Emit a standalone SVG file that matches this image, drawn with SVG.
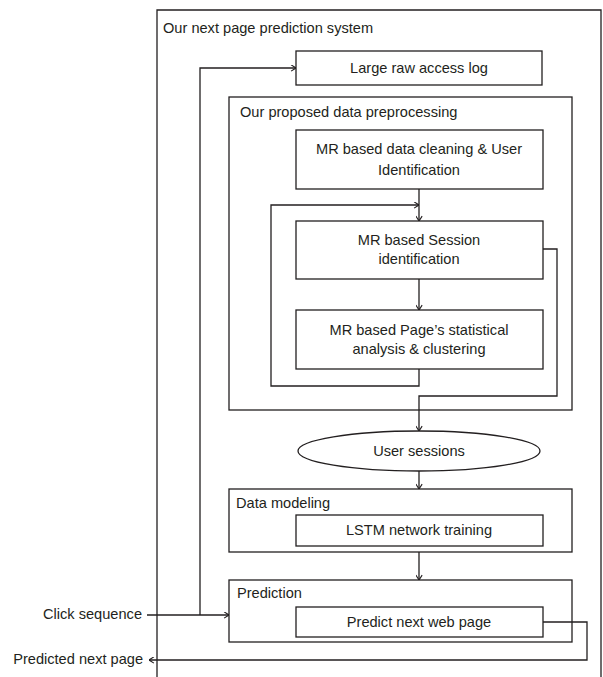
<svg xmlns="http://www.w3.org/2000/svg" width="603" height="677" viewBox="0 0 603 677">
<style>
.box{fill:#fff;stroke:#231f20;stroke-width:1.3}
.frame{fill:none;stroke:#231f20;stroke-width:1.3}
.c{fill:none;stroke:#231f20;stroke-width:1.3}
text{font-family:"Liberation Sans",Arial,sans-serif;font-size:14.6px;fill:#231f20}
.m{text-anchor:middle}
.e{text-anchor:end}
</style>
<defs>
<marker id="a" viewBox="0 0 10 10" refX="10" refY="5" markerWidth="7" markerHeight="7" markerUnits="userSpaceOnUse" orient="auto">
<path d="M3,0.5 L10,5 L3,9.5" fill="none" stroke="#231f20" stroke-width="1.6"/>
</marker>
</defs>
<g id="system">
<path class="frame" d="M157,677 V10 H601 V677"/>
<text x="163" y="33">Our next page prediction system</text>
</g>
<g id="rawlog">
<rect class="box" x="296" y="51" width="246" height="34"/>
<text class="m" x="419" y="73">Large raw access log</text>
</g>
<g id="preprocessing">
<rect class="box" x="229" y="97" width="343" height="313"/>
<text x="240" y="117">Our proposed data preprocessing</text>
</g>
<g id="cleaning">
<rect class="box" x="296" y="130" width="247" height="59"/>
<text class="m" x="419" y="154">MR based data cleaning &amp; User</text>
<text class="m" x="419" y="175">Identification</text>
</g>
<g id="session">
<rect class="box" x="296" y="221" width="247" height="58"/>
<text class="m" x="419" y="245">MR based Session</text>
<text class="m" x="419" y="264">identification</text>
</g>
<g id="pagestats">
<rect class="box" x="296" y="310" width="247" height="59"/>
<text class="m" x="419" y="335">MR based Page’s statistical</text>
<text class="m" x="419" y="354">analysis &amp; clustering</text>
</g>
<g id="usersessions">
<ellipse class="box" cx="419" cy="451" rx="121" ry="20"/>
<text class="m" x="419" y="456">User sessions</text>
</g>
<g id="datamodeling">
<rect class="box" x="229" y="489" width="343" height="63"/>
<text x="236" y="508">Data modeling</text>
</g>
<g id="lstm">
<rect class="box" x="296" y="515" width="247" height="31"/>
<text class="m" x="419" y="535">LSTM network training</text>
</g>
<g id="prediction">
<rect class="box" x="229" y="580" width="343" height="62"/>
<text x="237" y="598">Prediction</text>
</g>
<g id="predictnext">
<rect class="box" x="296" y="607" width="247" height="30"/>
<text class="m" x="419" y="627">Predict next web page</text>
</g>
<g id="clickseq">
<text class="e" x="142" y="619">Click sequence</text>
</g>
<g id="predictedpage">
<text class="e" x="143" y="664">Predicted next page</text>
</g>
<g id="connectors">
<path class="c" d="M200,615 V68 H296" marker-end="url(#a)"/>
<path class="c" d="M419,189 V221" marker-end="url(#a)"/>
<path class="c" d="M419,369 V386 H271 V205 H419" marker-end="url(#a)"/>
<path class="c" d="M419,279 V310" marker-end="url(#a)"/>
<path class="c" d="M543,249 H557 V396 H419 V431" marker-end="url(#a)"/>
<path class="c" d="M419,471 V489" marker-end="url(#a)"/>
<path class="c" d="M419,552 V580" marker-end="url(#a)"/>
<path class="c" d="M147,615 H229" marker-end="url(#a)"/>
<path class="c" d="M543,622 H587 V660 H149" marker-end="url(#a)"/>
</g>
</svg>
